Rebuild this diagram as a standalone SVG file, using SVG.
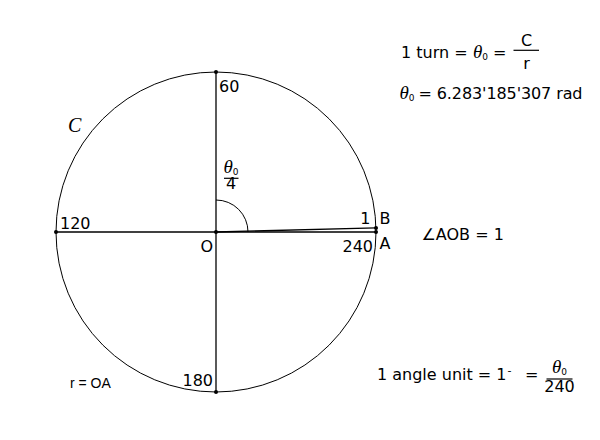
<svg xmlns="http://www.w3.org/2000/svg" width="600" height="440" viewBox="0 0 600 440">
<style>
.t{font-family:"DejaVu Sans",sans-serif;font-size:16px;fill:#000}
.th{font-family:"Liberation Serif",serif;font-style:italic;font-size:19px;fill:#000}
.sub{font-family:"DejaVu Sans",sans-serif;font-style:normal;font-size:9px;fill:#000}
.ln{stroke:#000;stroke-width:1.3;fill:none}
.cir{stroke:#000;stroke-width:1;fill:none}
.bar{stroke:#000;stroke-width:1.2}
.dot{fill:#000}
</style>
<rect width="600" height="440" fill="#fff"/>
<g id="circle">
<circle class="cir" cx="216" cy="232" r="160"/>
<text x="68" y="132" style="font-family:'Liberation Serif',serif;font-style:italic;font-size:20px">C</text>
</g>
<g id="connectors">
<line class="ln" x1="56" y1="232" x2="376" y2="232"/>
<line class="ln" x1="216" y1="72" x2="216" y2="392"/>
<line class="ln" x1="216" y1="232" x2="376" y2="227.8"/>
<path class="cir" d="M216,200 A32,32 0 0 1 248,232"/>
</g>
<g id="O"><circle class="dot" cx="216" cy="232" r="2"/><text class="t" x="200.5" y="252">O</text></g>
<g id="p60"><circle class="dot" cx="216" cy="72" r="2"/><text class="t" x="219" y="92">60</text></g>
<g id="p120"><circle class="dot" cx="56" cy="232" r="2"/><text class="t" x="60" y="228.5">120</text></g>
<g id="p180"><circle class="dot" cx="216" cy="392" r="2"/><text class="t" x="213" y="385.5" text-anchor="end">180</text></g>
<g id="A"><circle class="dot" cx="376" cy="232" r="2"/><text class="t" x="373" y="251.5" text-anchor="end">240</text><text class="t" x="379.5" y="248.5">A</text></g>
<g id="B"><circle class="dot" cx="376" cy="228" r="2"/><text class="t" x="370.5" y="223.5" text-anchor="end">1</text><text class="t" x="379.5" y="224">B</text></g>
<g id="quarter">
<text class="th" x="231" y="172.5" text-anchor="middle">θ<tspan class="sub" dy="2">0</tspan></text>
<line class="bar" x1="224" y1="178.3" x2="238.5" y2="178.3"/>
<text class="t" x="231" y="189" text-anchor="middle">4</text>
</g>
<g id="formula1">
<text class="t" x="401" y="57.5">1 turn =</text>
<text class="th" x="473" y="57.5">θ<tspan class="sub" dy="2">0</tspan></text>
<text class="t" x="493" y="57.5">=</text>
<line class="bar" x1="513.5" y1="50.3" x2="539" y2="50.3"/>
<text class="t" x="526.5" y="46" text-anchor="middle">C</text>
<text class="t" x="526.5" y="69" text-anchor="middle">r</text>
</g>
<g id="formula2">
<text class="th" x="399.5" y="99">θ<tspan class="sub" dy="2">0</tspan></text>
<text class="t" x="418.5" y="99" textLength="164" lengthAdjust="spacing">= 6.283'185'307 rad</text>
</g>
<g id="formula3">
<text class="t" x="421.5" y="240">∠AOB = 1</text>
</g>
<g id="formula4">
<text class="t" x="377" y="380">1 angle unit = 1<tspan font-size="11" dx="1" dy="-6">-</tspan></text>
<text class="t" x="525" y="380">=</text>
<text class="th" x="559.5" y="372.5" text-anchor="middle">θ<tspan class="sub" dy="2">0</tspan></text>
<line class="bar" x1="546.5" y1="379" x2="572.5" y2="379"/>
<text class="t" x="559.5" y="391.5" text-anchor="middle">240</text>
</g>
<g id="formula5">
<text x="70" y="388" style="font-family:'Liberation Sans',sans-serif;font-size:14px">r = OA</text>
</g>
</svg>
